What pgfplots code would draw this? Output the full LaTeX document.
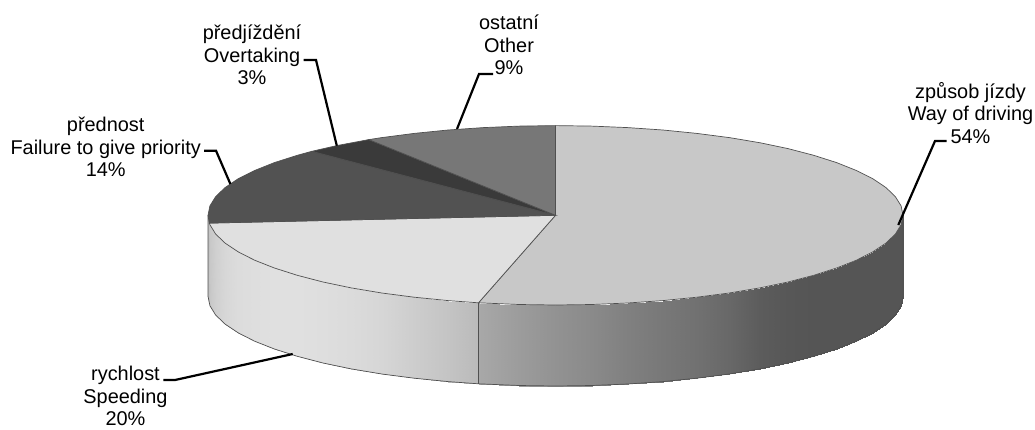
\documentclass[border=0pt]{standalone}
\usepackage{fontspec}
\setmainfont{Liberation Sans}
\usepackage{pgfplots}
\usepackage{pgfplotstable}
\pgfplotsset{compat=1.18}

\definecolor{rimc}{HTML}{505050}
\tikzset{lab/.style={align=center,inner sep=0pt,font=\fontsize{19.9}{22.7}\selectfont}}

% side wall, x, y and grey level, top and bottom point of each step
\pgfplotstableread{
x y g
903.0 215.3 85
903.0 296.3 85
901.1 224.7 85
901.1 305.7 85
895.4 234.0 85
895.4 315.0 85
886.0 243.0 85
886.0 324.0 85
872.9 251.8 85
872.9 332.8 85
856.4 260.2 85
856.4 341.2 85
836.6 268.0 85
836.6 349.0 85
813.7 275.3 85
813.7 356.3 85
788.0 282.0 87
788.0 363.0 87
759.8 287.9 92
759.8 368.9 92
729.3 293.0 104
729.3 374.0 104
696.8 297.2 113
696.8 378.2 113
662.9 300.6 120
662.9 381.6 120
627.7 303.0 128
627.7 384.0 128
591.8 304.5 138
591.8 385.5 138
555.5 305.0 146
555.5 386.0 146
519.2 304.5 156
519.2 385.5 156
478.5 302.8 168
478.5 383.8 168
}\wallright
\pgfplotstableread{
x y g
478.5 302.8 186
478.5 383.8 186
448.1 300.6 196
448.1 381.6 196
414.2 297.2 205
414.2 378.2 205
381.7 293.0 214
381.7 374.0 214
351.2 287.9 219
351.2 368.9 219
323.0 282.0 222
323.0 363.0 222
297.3 275.3 224
297.3 356.3 224
274.4 268.0 224
274.4 349.0 224
254.6 260.2 222
254.6 341.2 222
238.1 251.8 220
238.1 332.8 220
225.0 243.0 215
225.0 324.0 215
215.6 234.0 208
215.6 315.0 208
209.9 224.7 200
209.9 305.7 200
208.0 215.3 190
208.0 296.3 190
}\wallleft

\begin{document}
\begin{tikzpicture}
\begin{axis}[
    width=1035pt, height=429pt, scale only axis,
    hide axis, clip=false,
    xmin=0, xmax=1035, ymin=0, ymax=429,
    y dir=reverse,
    colormap={greys}{gray(0cm)=(0); gray(1cm)=(1)},
    point meta min=0, point meta max=255,
]

% keeps the page as large as the reference
\addplot[draw=none] coordinates {(0,0) (1035,0) (1035,429) (0,429)};

% wall
\addplot[surf, shader=interp, mesh/rows=2, mesh/ordering=y varies, point meta=\thisrow{g}] table[x=x,y=y] {\wallright};
\addplot[surf, shader=interp, mesh/rows=2, mesh/ordering=y varies, point meta=\thisrow{g}] table[x=x,y=y] {\wallleft};

% wall outline
\addplot[draw=rimc, line width=0.7pt] coordinates {
 (903.0,215.3) (903.0,296.3) (901.1,305.7) (895.4,315.0) (886.0,324.0) (872.9,332.8)
 (856.4,341.2) (836.6,349.0) (813.7,356.3) (788.0,363.0) (759.8,368.9) (729.3,374.0)
 (696.8,378.2) (662.9,381.6) (627.7,384.0) (591.8,385.5) (555.5,386.0) (519.2,385.5)
 (478.5,383.8) (448.1,381.6) (414.2,378.2) (381.7,374.0) (351.2,368.9) (323.0,363.0)
 (297.3,356.3) (274.4,349.0) (254.6,341.2) (238.1,332.8) (225.0,324.0) (215.6,315.0)
 (209.9,305.7) (208.0,296.3) (208.0,215.3)};
\addplot[draw=rimc, line width=0.7pt] coordinates {(478.5,302.8) (478.5,383.8)};

% top: way of driving
\addplot[fill={rgb,255:red,200;green,200;blue,200}, draw=rimc, line width=0.7pt] coordinates {
 (555.5,215.3) (555.5,125.6) (591.8,126.1) (627.7,127.6) (662.9,130.0) (696.8,133.4)
 (729.3,137.6) (759.8,142.7) (788.0,148.6) (813.7,155.3) (836.6,162.6) (856.4,170.5)
 (872.9,178.8) (886.0,187.6) (895.4,196.7) (901.1,205.9) (903.0,215.3) (901.1,224.7)
 (895.4,234.0) (886.0,243.0) (872.9,251.8) (856.4,260.2) (836.6,268.0) (813.7,275.3)
 (788.0,282.0) (759.8,287.9) (729.3,293.0) (696.8,297.2) (662.9,300.6) (627.7,303.0)
 (591.8,304.5) (555.5,305.0) (519.2,304.5) (478.5,302.8)} --cycle;
% speeding
\addplot[fill={rgb,255:red,224;green,224;blue,224}, draw=rimc, line width=0.7pt] coordinates {
 (555.5,215.3) (478.5,302.8) (448.1,300.6) (414.2,297.2) (381.7,293.0) (351.2,287.9)
 (323.0,282.0) (297.3,275.3) (274.4,268.0) (254.6,260.2) (238.1,251.8) (225.0,243.0)
 (215.6,234.0) (209.9,224.7) (209.3,223.1)} --cycle;
% priority
\addplot[fill={rgb,255:red,82;green,82;blue,82}, draw=rimc, line width=0.7pt] coordinates {
 (555.5,215.3) (209.3,223.1) (208.0,215.3) (209.9,205.9) (215.6,196.7) (225.0,187.6)
 (238.1,178.8) (254.6,170.5) (274.4,162.6) (297.3,155.3) (311.9,151.3)} --cycle;
% overtaking
\addplot[fill={rgb,255:red,58;green,58;blue,58}, draw=rimc, line width=0.7pt] coordinates {
 (555.5,215.3) (311.9,151.3) (336.8,145.6) (368.8,139.6)} --cycle;
% other
\addplot[fill={rgb,255:red,119;green,119;blue,119}, draw=rimc, line width=0.7pt] coordinates {
 (555.5,215.3) (368.8,139.6) (381.7,137.6) (414.2,133.4) (448.1,130.0) (483.3,127.6)
 (519.2,126.1) (555.5,125.6)} --cycle;

% leader lines
\addplot[black, line width=2.2pt] coordinates {(946.7,141) (935,141) (898.3,225)};
\addplot[black, line width=2.2pt] coordinates {(163.3,380) (175,380) (292.7,354)};
\addplot[black, line width=2.2pt] coordinates {(204,150.7) (216,150.7) (230.4,184)};
\addplot[black, line width=2.2pt] coordinates {(303.6,60) (316,60) (336.8,145.7)};
\addplot[black, line width=2.2pt] coordinates {(493,74) (479,74) (457,129)};

\node[lab] at (axis cs:970.5,113) {způsob jízdy\\Way of driving\\54\%};
\node[lab] at (axis cs:125.5,396) {rychlost\\Speeding\\20\%};
\node[lab] at (axis cs:105.7,147) {přednost\\Failure to give priority\\14\%};
\node[lab] at (axis cs:252,55) {předjíždění\\Overtaking\\3\%};
\node[lab] at (axis cs:509,45) {ostatní\\Other\\9\%};

\end{axis}
\end{tikzpicture}
\end{document}
